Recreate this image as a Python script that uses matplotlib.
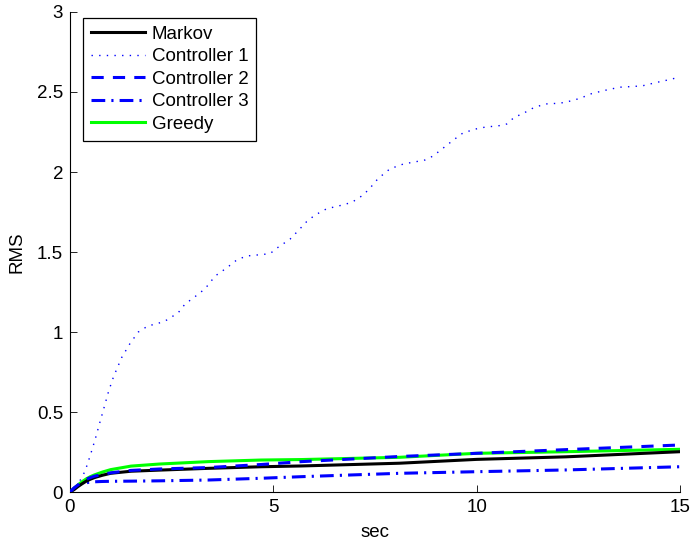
import matplotlib
matplotlib.use("Agg")
import matplotlib.pyplot as plt

plt.rcParams['font.family'] = ['Liberation Sans', 'DejaVu Sans']

# Controller 1 (dotted)
c1_t = [0, 0.2, 0.37, 0.5, 0.62, 0.74, 0.84, 0.95, 1.07, 1.27, 1.48, 1.68, 1.93, 2.13,
        2.38, 2.66, 2.83, 3.07, 3.32, 3.57, 3.85, 4.1, 4.34, 4.75, 4.92, 5.12, 5.41,
        5.6, 5.82, 6.02, 6.31, 6.64, 6.93, 7.21, 7.38, 7.58, 7.87, 8.2, 8.52, 8.73,
        8.93, 9.18, 9.43, 9.67, 10.0, 10.2, 10.57, 10.74, 10.94, 11.1, 11.39, 11.68,
        12.05, 12.25, 12.54, 12.83, 13.15, 13.52, 13.89, 14.1, 14.43, 14.79, 15.0]
c1_v = [0, 0.05, 0.13, 0.23, 0.33, 0.44, 0.53, 0.63, 0.72, 0.84, 0.93, 1.0, 1.04, 1.05,
        1.075, 1.12, 1.175, 1.22, 1.27, 1.35, 1.40, 1.45, 1.475, 1.485, 1.49, 1.53, 1.58,
        1.63, 1.69, 1.73, 1.77, 1.79, 1.81, 1.856, 1.90, 1.96, 2.02, 2.05, 2.065, 2.075,
        2.10, 2.15, 2.2, 2.245, 2.27, 2.28, 2.29, 2.30, 2.345, 2.36, 2.40, 2.425,
        2.43, 2.44, 2.46, 2.49, 2.51, 2.53, 2.535, 2.54, 2.56, 2.58, 2.595]

# lower curves
t = [0, 0.1, 0.2, 0.3, 0.4, 0.5, 0.6, 0.8, 1.0, 1.5, 2.2, 3.4, 4.7, 5.7, 8.1, 10.0, 12.2, 15.0]
markov = [0, 0.015, 0.035, 0.052, 0.068, 0.08, 0.09, 0.105, 0.117, 0.13, 0.137, 0.148, 0.158,
          0.163, 0.18, 0.204, 0.22, 0.252]
greedy = [0, 0.022, 0.045, 0.065, 0.082, 0.096, 0.107, 0.125, 0.14, 0.162, 0.175, 0.19, 0.2,
          0.203, 0.217, 0.242, 0.252, 0.267]
ctrl2 = [0, 0.025, 0.045, 0.065, 0.08, 0.09, 0.099, 0.11, 0.12, 0.135, 0.144, 0.153, 0.172,
         0.19, 0.222, 0.242, 0.265, 0.294]
ctrl3 = [0, 0.025, 0.042, 0.052, 0.058, 0.062, 0.064, 0.066, 0.067, 0.068, 0.07, 0.075, 0.086,
         0.096, 0.117, 0.127, 0.138, 0.158]

labels = ['Markov', 'Controller 1', 'Controller 2', 'Controller 3', 'Greedy']

fig = plt.figure(figsize=(6.91, 5.45), dpi=100)
ax = fig.add_axes([0.1013, 0.0972, 0.8827, 0.8808])

ax.plot(t, markov, color='k', lw=2.2, label=labels[0], zorder=4)
ax.plot(c1_t, c1_v, color='b', lw=1.0, ls=(0, (1, 4.5)), label=labels[1])
ax.plot(t, ctrl2, color='b', lw=2.2, ls=(0, (4, 3)), label=labels[2], zorder=5)
ax.plot(t, ctrl3, color='b', lw=2.2, ls=(0, (4.5, 2, 0.7, 2)), label=labels[3])
ax.plot(t, greedy, color='#00ff00', lw=2.2, label=labels[4], zorder=3)

ax.set_xlim(0, 15)
ax.set_ylim(0, 3)
ax.set_xticks([0, 5, 10, 15])
ax.set_yticks([0, 0.5, 1, 1.5, 2, 2.5, 3])
ax.set_yticklabels(['0', '0.5', '1', '1.5', '2', '2.5', '3'])
ax.spines['top'].set_visible(False)
ax.spines['right'].set_visible(False)
ax.tick_params(direction='in', length=5, labelsize=13.5, width=0.6, pad=5)
for s in ['left', 'bottom']:
    ax.spines[s].set_linewidth(0.8)
ax.set_xlabel('sec', fontsize=13.5, labelpad=6)
ax.set_ylabel('RMS', fontsize=13.5, labelpad=8)

h, l = ax.get_legend_handles_labels()
leg = ax.legend(h, l, loc='upper left', bbox_to_anchor=(0.021, 0.988), fontsize=13.5,
                handlelength=2.9, fancybox=False, framealpha=1, edgecolor='k',
                borderpad=0.42, labelspacing=0.29, handletextpad=0.35, borderaxespad=0)
leg.get_frame().set_linewidth(0.9)

fig.savefig('out.png', dpi=100)
